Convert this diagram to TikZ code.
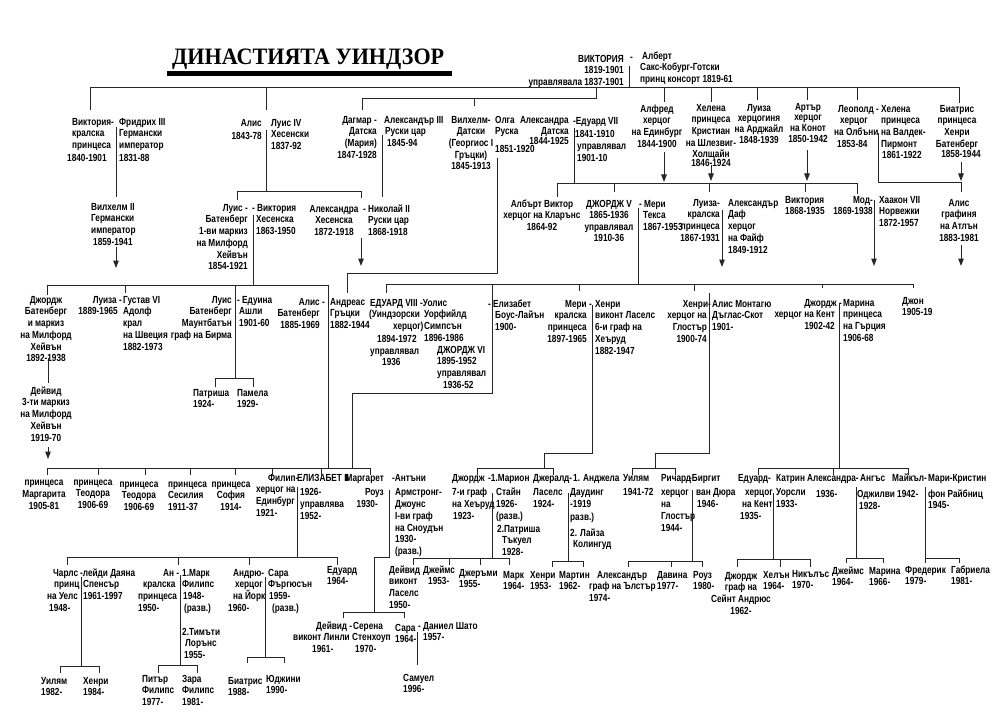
\documentclass[tikz,border=0pt]{standalone}
\usepackage{fontspec}
\newfontfamily\chartfam{Liberation Sans}[FakeStretch=0.8]
\newfontfamily\titlefam{Liberation Serif}[FakeStretch=0.94]
\usetikzlibrary{arrows.meta}
\newcommand\st{\rule{0pt}{9pt}}
\tikzset{
 cfont/.style={font={\chartfam\bfseries\fontsize{10.3}{11.7}\selectfont}},
 L/.style={anchor=north west, yshift=9pt, align=left, inner sep=0pt, cfont},
 C/.style={anchor=north, yshift=9pt, align=center, inner sep=0pt, cfont},
 R/.style={anchor=north east, yshift=9pt, align=right, inner sep=0pt, cfont},
 ln/.style={line width=1pt, black!85},
 ar/.style={ln, -{Triangle[width=5.5pt,length=7.5pt]}}
}
\begin{document}
\begin{tikzpicture}[x=1pt,y=-1pt]
\useasboundingbox (0,0) rectangle (1000,719);
% title
\node[anchor=base west, inner sep=0pt, font={\titlefam\bfseries\fontsize{23.5}{26}\selectfont}] (title) at (172,65) {ДИНАСТИЯТА УИНДЗОР};
\fill (167,71) rectangle (452,76);
% Victoria
\node[R] (vic) at (624,62) {\st ВИКТОРИЯ\\1819-1901\\управлявала 1837-1901};
\node[L] (d0) at (630,60) {\st -};
\node[L] (alb) at (640,59) {\st\hspace*{2pt}Алберт\\Сакс-Кобург-Готски\\принц консорт 1819-61};
% row 2
\node[L] (vicp) at (67,125) {\st\hspace*{5pt}Виктория-\\\hspace*{5pt}кралска\\\hspace*{5pt}принцеса\\[1pt]1840-1901};
\node[L] (fri) at (119,125) {\st Фридрих III\\Германски\\император\\[1pt]1831-88};
\node[L] (wil2) at (91,210) {\st Вилхелм II\\Германски\\император\\\hspace*{2pt}1859-1941};
\node[R] (alis) at (262,126) {\st Алис\\[2pt]1843-78};
\node[L] (lu4) at (271,126) {\st Луис IV\\Хесенски\\1837-92};
\node[R] (dag) at (377,123) {\st Дагмар -\\Датска\\(Мария)\\1847-1928};
\node[L] (al3) at (384,123) {\st Александър III\\\hspace*{1pt}Руски цар\\\hspace*{3pt}1845-94};
\node[C] (vil) at (471,123) {\st Вилхелм-\\Датски\\(Георгиос I\\Гръцки)\\1845-1913};
\node[L] (olg) at (495,123) {\st Олга\\Руска\\[6pt]1851-1920};
\node[R] (alx) at (569,123) {\st Александра\\Датска\\[-2pt]1844-1925};
\node[L] (ed7) at (573,124) {\st -Едуард VII\\[2pt]\hspace*{2pt}1841-1910\\\hspace*{4pt}управлявал\\\hspace*{4pt}1901-10};
\node[C] (alf) at (657,112) {\st Алфред\\херцог\\на Единбург\\1844-1900};
\node[C] (hel) at (711,111) {\st Хелена\\принцеса\\Кристиан\\на Шлезвиг-\\Холщайн\\[-3pt]1846-1924};
\node[C] (lui) at (759,111) {\st Луиза\\[-1pt]херцогиня\\[-1pt]на Арджайл\\[-1pt]1848-1939};
\node[C] (art) at (808,110) {\st Артър\\[-1pt]херцог\\[-1pt]на Конот\\[-1pt]1850-1942};
\node[L] (leo) at (834,112) {\st\hspace*{4pt}Леополд -\\\hspace*{6pt}херцог\\на Олбъни\\\hspace*{3pt}1853-84};
\node[L] (hln) at (881,112) {\st Хелена\\принцеса\\на Валдек-\\Пирмонт\\\hspace*{1pt}1861-1922};
\node[C] (bea) at (957,112) {\st Биатрис\\принцеса\\Хенри\\Батенберг\\[-1pt]\hspace*{8pt}1858-1944};
% row 3
\node[C] (alv) at (542,207) {\st Албърт Виктор\\херцог на Кларънс\\1864-92};
\node[C] (g5) at (609,207) {\st ДЖОРДЖ V\\1865-1936\\управлявал\\[-1pt]1910-36};
\node[L] (mer) at (639,207) {\st - Мери\\\hspace*{4pt}Текса\\\hspace*{4pt}1867-1953};
\node[R] (lu2) at (720,206) {\st Луиза-\\кралска\\принцеса\\1867-1931};
\node[L] (daf) at (728,206) {\st Александър\\Даф\\херцог\\на Файф\\1849-1912};
\node[L] (vi2) at (785,203) {\st Виктория\\1868-1935};
\node[R] (mod) at (873,203) {\st Мод-\\1869-1938};
\node[L] (haa) at (879,203) {\st Хаакон VII\\Норвежки\\1872-1957};
\node[C] (ath) at (959,206) {\st Алис\\графиня\\на Атлън\\1883-1981};
\node[R] (lba) at (248,211) {\st Луис -\\Батенберг\\1-ви маркиз\\на Милфорд\\Хейвън\\1854-1921};
\node[L] (vhe) at (252,211) {\st - Виктория\\\hspace*{4pt}Хесенска\\\hspace*{4pt}1863-1950};
\node[C] (ahe) at (334,212) {\st Александра\\Хесенска\\1872-1918};
\node[L] (nik) at (363,212) {\st - Николай II\\\hspace*{5pt}Руски цар\\\hspace*{5pt}1868-1918};
% row 4
\node[C] (gba) at (46,303) {\st Джордж\\Батенберг\\и маркиз\\на Милфорд\\Хейвън\\1892-1938};
\node[C] (dav) at (46,394) {\st Дейвид\\3-ти маркиз\\на Милфорд\\Хейвън\\1919-70};
\node[R] (lu3) at (118,303) {\st Луиза -\hspace*{-4pt}\\1889-1965};
\node[L] (gus) at (123,303) {\st Густав VI\\Адолф\\крал\\на Швеция\\1882-1973};
\node[R] (lmo) at (232,303) {\st Луис\\Батенберг\\Маунтбатън\\граф на Бирма};
\node[L] (edn) at (237,303) {\st - Едуина\\\hspace*{2pt}Ашли\\\hspace*{2pt}1901-60};
\node[L] (pat) at (193,396) {\st Патриша\\1924-};
\node[L] (pam) at (237,396) {\st Памела\\1929-};
\node[R] (alb2) at (320,305) {\st Алис -\hspace*{-5pt}\\Батенберг\\1885-1969};
\node[L] (and) at (330,305) {\st Андреас\\Гръцки\\1882-1944};
\node[L] (e8) at (369,306) {\st\hspace*{1pt}ЕДУАРД VIII\\(Уиндзорски\\\hspace*{24pt}херцог)\\[1pt]\hspace*{8pt}1894-1972\\\hspace*{1pt}управлявал\\\hspace*{13pt}1936};
\node[L] (wal) at (420,306) {\st -Уолис\\\hspace*{4pt}Уорфийлд\\\hspace*{4pt}Симпсън\\\hspace*{4pt}1896-1986};
\node[L] (g6) at (437,353) {\st ДЖОРДЖ VI\\1895-1952\\управлявал\\\hspace*{6pt}1936-52};
\node[L] (eli) at (488,307) {\st - Елизабет\\\hspace*{7pt}Боус-Лайън\\\hspace*{7pt}1900-};
\node[R] (me2) at (587,307) {\st Мери -\hspace*{-5pt}\\кралска\\принцеса\\1897-1965};
\node[L] (hla) at (595,307) {\st Хенри\\виконт Ласелс\\6-и граф на\\Хеъруд\\1882-1947};
\node[R] (hgl) at (707,307) {\st Хенри-\hspace*{-4pt}\\херцог на\\Глостър\\1900-74};
\node[L] (ali) at (712,307) {\st Алис Монтагю\\Дъглас-Скот\\1901-};
\node[R] (gke) at (835,306) {\st Джордж -\hspace*{-7pt}\\херцог на Кент\\1902-42};
\node[L] (mrn) at (843,306) {\st Марина\\принцеса\\на Гърция\\1906-68};
\node[L] (jon) at (902,304) {\st Джон\\1905-19};
% row 5
\node[C] (mgt) at (44,485) {\st принцеса\\[1pt]Маргарита\\1905-81};
\node[C] (te1) at (93,485) {\st принцеса\\Теодора\\1906-69};
\node[C] (te2) at (139,487) {\st принцеса\\Теодора\\1906-69};
\node[L] (ces) at (168,487) {\st принцеса\\Сесилия\\1911-37};
\node[C] (sof) at (231,487) {\st принцеса\\София\\1914-};
\node[L] (phi) at (256,481) {\st\hspace*{12pt}Филип-\\херцог на\\Единбург\\1921-};
\node[L] (el2) at (297,481) {\st ЕЛИЗАБЕТ II\\[3pt]\hspace*{3pt}1926-\\\hspace*{3pt}управлява\\\hspace*{3pt}1952-};
\node[R] (mrg) at (384,481) {\st Маргарет\\[3pt]Роуз\hspace*{-3pt}\\1930-\hspace*{6pt}};
\node[L] (ant) at (392,481) {\st -Антъни\\[3pt]\hspace*{3pt}Армстронг-\\\hspace*{3pt}Джоунс\\\hspace*{3pt}I-ви граф\\\hspace*{3pt}на Сноудън\\\hspace*{3pt}1930-\\\hspace*{3pt}(разв.)};
\node[L] (gha) at (452,481) {\st Джордж\\[3pt]7-и граф\\на Хеъруд\\\hspace*{1pt}1923-};
\node[L] (mar1) at (488,481) {\st -1.Марион\\[3pt]\hspace*{8pt}Стайн\\\hspace*{8pt}1926-\\\hspace*{8pt}(разв.)\\[1pt]\hspace*{9pt}2.Патриша\\\hspace*{14pt}Тъкуел\\\hspace*{14pt}1928-};
\node[L] (ger) at (533,481) {\st Джералд-\\[3pt]Ласелс\\1924-};
\node[L] (anj) at (570,481) {\st\hspace*{3pt}1. Анджела\\[3pt]Даудинг\\-1919\\[1pt]разв.)\\[4pt]2. Лайза\\\hspace*{3pt}Колингуд};
\node[L] (uil) at (623,481) {\st Уилям\\[3pt]1941-72};
\node[L] (ric) at (661,481) {\st Ричард\\[3pt]херцог\\на\\Глостър\\1944-};
\node[L] (bir) at (689,481) {\st -Биргит\\[3pt]\hspace*{7pt}ван Дюра\\\hspace*{8pt}1946-};
\node[L] (ek) at (738,481) {\st Едуард-\\[3pt]\hspace*{7pt}херцог\\\hspace*{4pt}на Кент\\\hspace*{2pt}1935-};
\node[L] (kat) at (776,481) {\st Катрин\\[3pt]Уорсли\\1933-};
\node[L] (axo) at (807,481) {\st Александра-\\[5pt]\hspace*{9pt}1936-};
\node[L] (ang) at (857,481) {\st\hspace*{3pt}Ангъс\\[5pt]Оджилви\\\hspace*{2pt}1928-};
\node[L] (mic) at (892,481) {\st Майкъл-\\[5pt]\hspace*{5pt}1942-};
\node[L] (mck) at (928,481) {\st Мари-Кристин\\[5pt]фон Райбниц\\[-1pt]1945-};
% row 6
\node[L] (chr) at (47,576) {\st\hspace*{6pt}Чарлс\\\hspace*{7pt}принц\\на Уелс\\\hspace*{2pt}1948-};
\node[L] (dia) at (80,576) {\st -лейди Даяна\\\hspace*{3pt}Спенсър\\\hspace*{3pt}1961-1997};
\node[L] (wim) at (41,684) {\st Уилям\\1982-};
\node[L] (hry) at (83,684) {\st Хенри\\1984-};
\node[L] (ann) at (138,576) {\st\hspace*{25pt}Ан -\\\hspace*{5pt}кралска\\принцеса\\1950-};
\node[L] (mrk) at (182,576) {\st 1.Марк\\Филипс\\\hspace*{1pt}1948-\\\hspace*{2pt}(разв.)\\[12pt]2.Тимъти\\\hspace*{3pt}Лорънс\\\hspace*{2pt}1955-};
\node[L] (ptr) at (142,682) {\st Питър\\Филипс\\1977-};
\node[L] (zar) at (182,682) {\st Зара\\Филипс\\1981-};
\node[L] (adw) at (228,576) {\st\hspace*{5pt}Андрю-\\\hspace*{7pt}херцог\\\hspace*{5pt}на Йорк\\1960-};
\node[L] (sar) at (268,576) {\st Сара\\Фъргюсън\\\hspace*{1pt}1959-\\\hspace*{4pt}(разв.)};
\node[L] (bea2) at (228,684) {\st Биатрис\\1988-};
\node[L] (eug) at (266,682) {\st Юджини\\1990-};
\node[L] (edw2) at (327,573) {\st Едуард\\1964-};
\node[L] (dvl) at (389,573) {\st Дейвид\\виконт\\Ласелс\\1950-};
\node[L] (jms) at (423,573) {\st Джеймс\\\hspace*{5pt}1953-};
\node[L] (jer) at (459,576) {\st Джеръми\\1955-};
\node[L] (mkl) at (503,578) {\st Марк\\1964-};
\node[L] (hnl) at (530,578) {\st Хенри\\1953-};
\node[L] (mtn) at (559,578) {\st Мартин\\1962-};
\node[L] (axu) at (589,578) {\st\hspace*{8pt}Александър\\граф на Ълстър\\1974-};
\node[L] (dvn) at (657,578) {\st Давина\\1977-};
\node[L] (ros) at (693,578) {\st Роуз\\1980-};
\node[C] (gsa) at (741,579) {\st Джордж\\граф на\\Сейнт Андрюс\\1962-};
\node[L] (hln2) at (763,578) {\st Хелън\\1964-};
\node[L] (nks) at (792,577) {\st Никълъс\\1970-};
\node[L] (jm2) at (832,574) {\st Джеймс\\1964-};
\node[L] (mr2) at (869,574) {\st Марина\\1966-};
\node[L] (frd) at (905,573) {\st Фредерик\\1979-};
\node[L] (gbr) at (951,573) {\st Габриела\\1981-};
\node[L] (dln) at (293,629) {\st\hspace*{23pt}Дейвид -\\виконт Линли\\\hspace*{19pt}1961-};
\node[L] (srn) at (352,629) {\st\hspace*{1pt}Серена\\Стенхоуп\\\hspace*{3pt}1970-};
\node[L] (sr2) at (395,631) {\st Сара\\1964-};
\node[L] (dnl) at (418,629) {\st - Даниел Шато\\\hspace*{5pt}1957-};
\node[L] (sml) at (403,681) {\st Самуел\\1996-};
% ---------- connectors ----------
\coordinate (k1) at (629,66); \draw[ln] (k1) -- ++(0,22);
\coordinate (k2) at (90,110); \draw[ln] (k2) -- ++(0,-22) -- ++(869,0) -- ++(0,15);
\foreach \xx/\dd [count=\i] in {266/22,664/14,711/14,757/12,807/12,857/12}{
  \coordinate (t\i) at (\xx,88); \draw[ln] (t\i) -- ++(0,\dd);}
\coordinate (k4) at (596,88); \draw[ln] (k4) -- ++(0,11) -- ++(-234,0) -- ++(0,11);
\coordinate (k4b) at (474,99); \draw[ln] (k4b) -- ++(0,7);
\coordinate (k5) at (116,127); \draw[ln] (k5) -- ++(0,70);
\coordinate (k6) at (116,247); \draw[ar] (k6) -- ++(0,21);
\coordinate (k7) at (266,130); \draw[ln] (k7) -- ++(0,62);
\coordinate (k7b) at (237,200); \draw[ln] (k7b) -- ++(0,-8) -- ++(124,0) -- ++(0,6);
\coordinate (k8) at (382,135); \draw[ln] (k8) -- ++(0,62);
\coordinate (k9) at (497,158); \draw[ln] (k9) -- ++(0,115) -- ++(-150,0) -- ++(0,20);
\coordinate (k10) at (361,238); \draw[ar] (k10) -- ++(0,28);
\coordinate (k11) at (574,128); \draw[ln] (k11) -- ++(0,56);
\coordinate (k11b) at (557,197); \draw[ln] (k11b) -- ++(0,-13) -- ++(300,0) -- ++(0,10);
\foreach \xx [count=\i] in {614,709,805}{\coordinate (u\i) at (\xx,184); \draw[ln] (u\i) -- ++(0,8);}
\coordinate (a1) at (664,152); \draw[ar] (a1) -- ++(0,30);
\coordinate (a2) at (711,165); \draw[ar] (a2) -- ++(0,16);
\coordinate (a3) at (807,150); \draw[ar] (a3) -- ++(0,31);
\coordinate (k13) at (878,133); \draw[ln] (k13) -- ++(0,50) -- ++(83,0) -- ++(0,9);
\coordinate (a4) at (961,162); \draw[ar] (a4) -- ++(0,19);
\coordinate (a5) at (874,200); \draw[ar] (a5) -- ++(0,66);
\coordinate (a6) at (961,245); \draw[ar] (a6) -- ++(0,21);
\coordinate (a7) at (722,210); \draw[ar] (a7) -- ++(0,57);
\coordinate (k17) at (253,215); \draw[ln] (k17) -- ++(0,70);
\coordinate (k17b) at (47,295); \draw[ln] (k17b) -- ++(0,-10) -- ++(281,0) -- ++(0,183);
\coordinate (k17c) at (125,285); \draw[ln] (k17c) -- ++(0,8);
\coordinate (k17d) at (235,285); \draw[ln] (k17d) -- ++(0,93);
\coordinate (k17e) at (215,387); \draw[ln] (k17e) -- ++(0,-9) -- ++(38,0) -- ++(0,9);
\coordinate (k18) at (48,358); \draw[ln] (k18) -- ++(0,25);
\coordinate (a8) at (48,447); \draw[ar] (a8) -- ++(0,12);
\coordinate (k19) at (328,468); \draw[ln] (k19) -- ++(-281,0) -- ++(0,7);
\foreach \xx [count=\i] in {98,145,190,235,272}{\coordinate (v\i) at (\xx,468); \draw[ln] (v\i) -- ++(0,7);}
\coordinate (k20) at (638,208); \draw[ln] (k20) -- ++(0,76);
\coordinate (k20b) at (386,293); \draw[ln] (k20b) -- ++(0,-9) -- ++(527,0) -- ++(0,4);
\foreach \xx/\dd [count=\i] in {579/7,694/7,822/4}{\coordinate (w\i) at (\xx,284); \draw[ln] (w\i) -- ++(0,\dd);}
\coordinate (k20c) at (492,284); \draw[ln] (k20c) -- ++(0,109) -- ++(-140,0) -- ++(0,75);
\coordinate (k20d) at (321,475); \draw[ln] (k20d) -- ++(0,-7) -- ++(49,0) -- ++(0,7);
\coordinate (k21) at (592,305); \draw[ln] (k21) -- ++(0,148) -- ++(-48,0) -- ++(0,15);
\coordinate (k21b) at (477,475); \draw[ln] (k21b) -- ++(0,-7) -- ++(76,0) -- ++(0,7);
\coordinate (k22) at (709,293); \draw[ln] (k22) -- ++(0,160) -- ++(-54,0) -- ++(0,15);
\coordinate (k22b) at (632,475); \draw[ln] (k22b) -- ++(0,-7) -- ++(43,0) -- ++(0,7);
\coordinate (k23) at (839,303); \draw[ln] (k23) -- ++(0,165);
\coordinate (k23b) at (758,475); \draw[ln] (k23b) -- ++(0,-7) -- ++(150,0) -- ++(0,7);
\coordinate (k23c) at (833,468); \draw[ln] (k23c) -- ++(0,7);
\coordinate (k24) at (297,487); \draw[ln] (k24) -- ++(0,70);
\coordinate (k24b) at (67,565); \draw[ln] (k24b) -- ++(0,-8) -- ++(270,0) -- ++(0,8);
\foreach \xx [count=\i] in {178,249}{\coordinate (x\i) at (\xx,557); \draw[ln] (x\i) -- ++(0,8);}
\coordinate (k25) at (389,490); \draw[ln] (k25) -- ++(0,67) -- ++(-15,0) -- ++(0,55);
\coordinate (k25b) at (343,618); \draw[ln] (k25b) -- ++(0,-6) -- ++(61,0) -- ++(0,6);
\coordinate (k26) at (417,632); \draw[ln] (k26) -- ++(0,33);
\coordinate (k27) at (492,493); \draw[ln] (k27) -- ++(0,65);
\coordinate (k27b) at (413,565); \draw[ln] (k27b) -- ++(0,-7) -- ++(96,0) -- ++(0,7);
\foreach \xx [count=\i] in {449,480}{\coordinate (y\i) at (\xx,558); \draw[ln] (y\i) -- ++(0,7);}
\coordinate (k28) at (568,493); \draw[ln] (k28) -- ++(0,68);
\coordinate (k28b) at (552,567); \draw[ln] (k28b) -- ++(0,-6) -- ++(31,0) -- ++(0,6);
\coordinate (k29) at (692,490); \draw[ln] (k29) -- ++(0,71);
\coordinate (k29b) at (628,567); \draw[ln] (k29b) -- ++(0,-6) -- ++(74,0) -- ++(0,6);
\coordinate (k29c) at (671,561); \draw[ln] (k29c) -- ++(0,6);
\coordinate (k30) at (773,493); \draw[ln] (k30) -- ++(0,66);
\coordinate (k30b) at (737,567); \draw[ln] (k30b) -- ++(0,-8) -- ++(73,0) -- ++(0,8);
\coordinate (k30c) at (780,559); \draw[ln] (k30c) -- ++(0,8);
\coordinate (k31) at (856,487); \draw[ln] (k31) -- ++(0,71);
\coordinate (k31b) at (846,563); \draw[ln] (k31b) -- ++(0,-5) -- ++(37,0) -- ++(0,5);
\coordinate (k32) at (925,487); \draw[ln] (k32) -- ++(0,76);
\coordinate (k32b) at (925,558); \draw[ln] (k32b) -- ++(34,0) -- ++(0,5);
\coordinate (k33) at (81,577); \draw[ln] (k33) -- ++(0,89);
\coordinate (k33b) at (60,673); \draw[ln] (k33b) -- ++(0,-7) -- ++(39,0) -- ++(0,7);
\coordinate (k34) at (180,575); \draw[ln] (k34) -- ++(0,90);
\coordinate (k34b) at (158,673); \draw[ln] (k34b) -- ++(0,-8) -- ++(39,0) -- ++(0,8);
\coordinate (k35) at (265,577); \draw[ln] (k35) -- ++(0,80);
\coordinate (k35b) at (247,663); \draw[ln] (k35b) -- ++(0,-6) -- ++(37,0) -- ++(0,6);
\end{tikzpicture}
\end{document}
